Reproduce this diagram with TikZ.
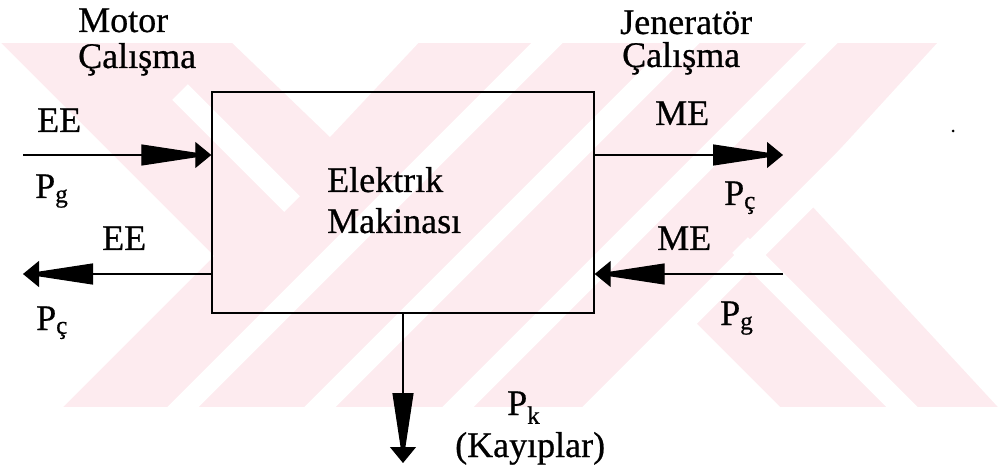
\documentclass[tikz,border=0pt]{standalone}
\usepackage{fontspec}
\setmainfont{Liberation Serif}
\newfontfamily\lblfont{Liberation Serif}[FakeBold=0.6]
\usetikzlibrary{arrows.meta}
\definecolor{wmpink}{RGB}{253,235,239}
\tikzset{
  spike/.tip={Triangle[length=70pt,width=21pt,sep=-16pt]Triangle[length=16pt,width=26pt]},
  lbl/.style={inner sep=0pt, anchor=base west, font=\lblfont\fontsize{36}{40}\selectfont},
  conn/.style={line width=1.2pt},
  boxstyle/.style={draw, line width=1.4pt, minimum width=382pt, minimum height=221pt, inner sep=0pt},
  wmstripe/.style={white, line width=22pt}
}
\begin{document}
\begin{tikzpicture}[x=1pt,y=-1pt]
\useasboundingbox (0,0) rectangle (1005,468);
\fill[white] (0,0) rectangle (1005,468);
% watermark
\begin{scope}
  \clip (0,43) rectangle (1005,407);
  \fill[wmpink] (0,43) rectangle (1005,407);
  \fill[white] (0,42) -- (214,256) -- (0,470) -- cycle;
  \fill[white] (226,37) -- (424,37) -- (330,137) -- cycle;
  \fill[white] (689,316) -- (598,407) -- (780,407) -- cycle;
  \fill[white] (940,40) -- (1010,40) -- (1010,420) -- (800,193) -- cycle;
  \draw[wmstripe] (180,92) -- (292,204);
  \foreach \c in {590,727,865,1005} \draw[wmstripe] (\c-30,30) -- (\c-420,420);
  \draw[wmstripe] (740,245) -- (910,415);
\end{scope}
% main box
\node[boxstyle] (box) at (403,202.5) {};
% labels
\node[lbl] (motor) at (78,32) {Motor};
\node[lbl] (motorc) at (78,68) {Çalışma};
\node[lbl] (gen) at (620,34) {Jeneratör};
\node[lbl] (genc) at (622,67) {Çalışma};
\node[lbl] (ee1) at (37,132) {EE};
\node[lbl] (pg1) at (35,198) {P\textsubscript{g}};
\node[lbl] (ee2) at (102,250) {EE};
\node[lbl] (pc1) at (36,330) {P\textsubscript{ç}};
\node[lbl] (me1) at (655,125) {ME};
\node[lbl] (pc2) at (724,205) {P\textsubscript{ç}};
\node[lbl] (me2) at (657,250) {ME};
\node[lbl] (pg2) at (720,325) {P\textsubscript{g}};
\node[lbl] (el1) at (327,192) {Elektrık};
\node[lbl] (el2) at (327,233) {Makinası};
\node[lbl] (pk) at (507,415) {P\textsubscript{k}};
\node[lbl] (kay) at (455,457) {(Kayıplar)};
% connectors
\coordinate (a1s) at (23,155);
\coordinate (a2e) at (23,274);
\coordinate (a3e) at (783,155);
\coordinate (a4s) at (783,274);
\coordinate (a5e) at (403,463);
\draw[conn,-spike] (a1s) -- (a1s -| box.west);
\draw[conn,-spike] (a2e -| box.west) -- (a2e);
\draw[conn,-spike] (a3e -| box.east) -- (a3e);
\draw[conn,-spike] (a4s) -- (a4s -| box.east);
\draw[conn,-spike] (box.south) -- (a5e);
\fill (953,131) circle (1.5pt);
\end{tikzpicture}
\end{document}
